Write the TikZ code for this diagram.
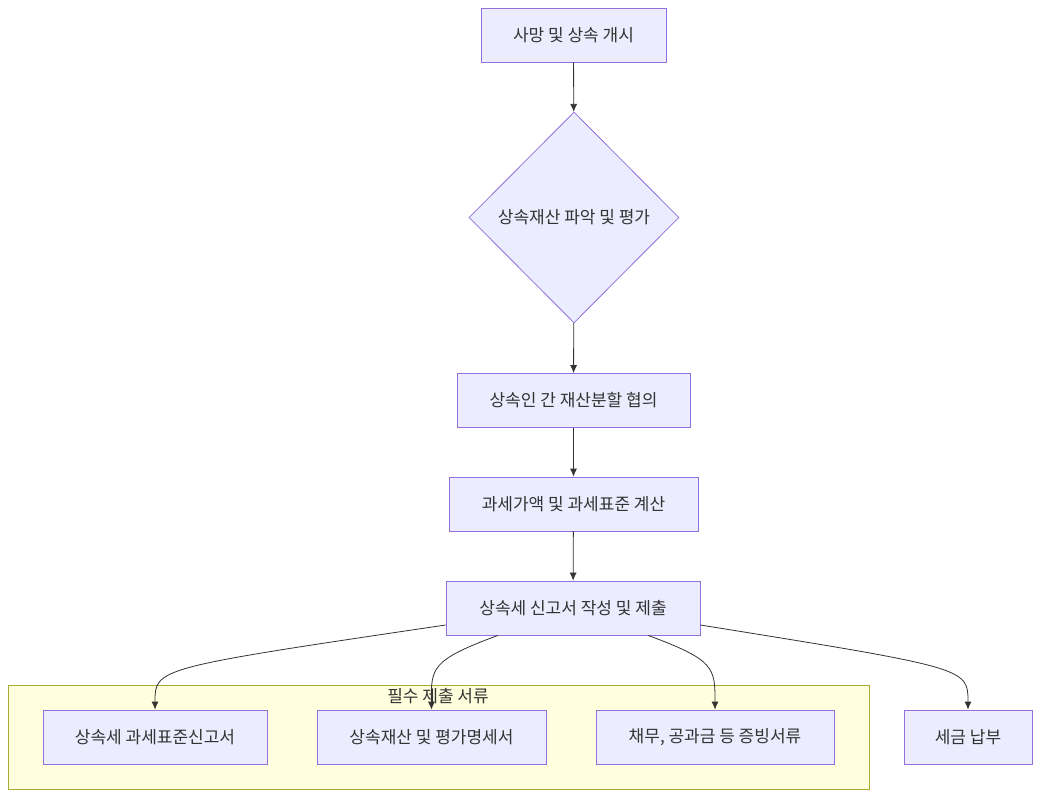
\documentclass[tikz,border=0pt]{standalone}
\usepackage{fontspec}
\setmainfont{Noto Sans CJK KR}
\usetikzlibrary{arrows.meta, positioning, shapes.geometric}
\definecolor{boxfill}{HTML}{ECECFF}
\definecolor{boxline}{HTML}{9370DB}
\definecolor{grpfill}{HTML}{FFFFDE}
\definecolor{grpline}{HTML}{AAAA33}
\definecolor{ink}{HTML}{333333}

\begin{document}
\begin{tikzpicture}[
  x=1pt, y=-1pt,
  every node/.style={font=\fontsize{17}{20}\selectfont, text=ink},
  box/.style={draw=boxline, fill=boxfill, line width=0.8pt, align=center, minimum height=54pt, inner sep=0pt},
  decision/.style={diamond, draw=boxline, fill=boxfill, line width=0.8pt, align=center, minimum width=210pt, minimum height=211pt, inner sep=1pt},
  cluster/.style={draw=grpline, fill=grpfill, line width=0.8pt, minimum width=861pt, minimum height=104pt, inner sep=0pt},
  arrow/.style={-{Latex[length=8pt, width=7pt]}, draw=ink, line width=0.8pt}
]
\useasboundingbox (0,0) rectangle (1041,797);

% group of required documents
\node[cluster] (docs) at (438.5,737) {};
\node at (438,696) (docstitle) {필수 제출 서류};

\node[box, minimum width=185pt] (death) at (573.5,35) {사망 및 상속 개시};
\node[decision] (assess) at (574,217.5) {상속재산 파악 및 평가};
\node[box, minimum width=233pt] (divide) at (573.5,400.5) {상속인 간 재산분할 협의};
\node[box, minimum width=249pt] (calc) at (573.5,504) {과세가액 및 과세표준 계산};
\node[box, minimum width=254pt] (submit) at (573,608) {상속세 신고서 작성 및 제출};

\node[box, minimum width=224pt] (report) at (155,737) {상속세 과세표준신고서};
\node[box, minimum width=229pt] (stmt) at (431.5,737) {상속재산 및 평가명세서};
\node[box, minimum width=238pt] (proof) at (715,737) {채무, 공과금 등 증빙서류};
\node[box, minimum width=128pt] (pay) at (968,737) {세금 납부};

\draw[arrow] (death) -- (assess);
\draw[arrow] (assess) -- (divide);
\draw[arrow] (divide) -- (calc);
\draw[arrow] (calc) -- (submit);

\draw[arrow] ([yshift=-17pt]submit.west) .. controls (155,668) and (155,668) .. (report.north);
\draw[arrow] ([xshift=-75pt]submit.south) .. controls (431,660) and (431,668) .. (stmt.north);
\draw[arrow] ([xshift=75pt]submit.south) .. controls (715,660) and (715,668) .. (proof.north);
\draw[arrow] ([yshift=-17pt]submit.east) .. controls (968,668) and (968,668) .. (pay.north);
\end{tikzpicture}
\end{document}
